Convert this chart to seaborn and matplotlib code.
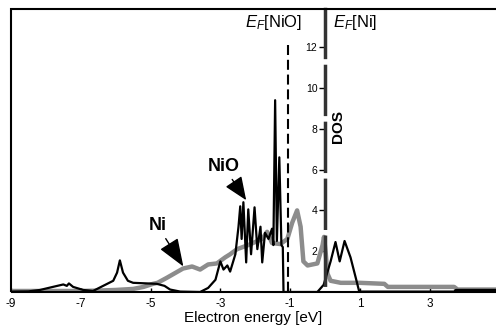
import matplotlib
matplotlib.use("Agg")
import matplotlib.pyplot as plt
from matplotlib.patches import Rectangle
import pandas as pd
import seaborn as sns

# NiO density of states (black)
nio_energy = [-9.0, -8.5, -8.17, -7.8, -7.5, -7.4, -7.34, -7.22, -6.93, -6.65,
              -6.36, -6.07, -5.96, -5.88, -5.79, -5.65, -5.5, -4.82, -4.6, -4.44,
              -4.15, -3.58, -3.35, -3.14, -3.0, -2.91, -2.8, -2.72, -2.57, -2.48,
              -2.43, -2.39, -2.34, -2.26, -2.2, -2.12, -2.02, -1.94, -1.85, -1.8,
              -1.72, -1.62, -1.52, -1.48, -1.43, -1.38, -1.31, -1.25, -1.21, -1.19,
              -0.22, -0.04, 0.16, 0.3, 0.42, 0.56, 0.73, 0.88, 0.98, 3.7,
              3.75, 4.9]
nio_dos = [0.02, 0.03, 0.1, 0.25, 0.37, 0.3, 0.42, 0.25, 0.1, 0.05,
           0.3, 0.55, 0.95, 1.55, 0.95, 0.55, 0.45, 0.4, 0.3, 0.12,
           0.02, 0.0, 0.2, 0.6, 1.5, 1.1, 1.3, 1.0, 1.85, 3.2,
           4.2, 2.6, 4.4, 1.45, 4.05, 1.85, 4.15, 2.1, 3.2, 1.45,
           2.9, 2.6, 3.1, 2.3, 9.4, 2.5, 6.6, 2.3, 2.2, 0.0,
           0.0, 0.35, 1.5, 2.45, 1.5, 2.5, 1.7, 0.7, 0.02, 0.02,
           0.1, 0.1]

# Ni density of states (grey)
ni_energy = [-9.0, -8.0, -7.0, -6.5, -6.0, -5.5, -5.2, -4.93, -4.8, -4.53,
             -4.07, -3.81, -3.58, -3.35, -3.1, -2.86, -2.72, -2.52, -2.2, -1.8,
             -1.66, -1.52, -1.28, -1.08, -0.94, -0.8, -0.7, -0.62, -0.5, -0.22,
             -0.07, -0.03, 0.02, 0.07, 0.16, 0.45, 1.0, 1.7, 1.8, 3.7,
             3.8, 4.9]
ni_dos = [0.05, 0.05, 0.05, 0.07, 0.1, 0.15, 0.25, 0.4, 0.45, 0.7,
          1.15, 1.25, 1.1, 1.35, 1.4, 1.7, 1.85, 2.1, 2.3, 2.6,
          2.95, 2.4, 2.35, 2.6, 3.4, 4.0, 3.2, 1.5, 1.3, 1.4,
          2.3, 2.7, 1.9, 0.9, 0.55, 0.45, 0.45, 0.4, 0.25, 0.25,
          0.12, 0.12]

x_ticks = [-9, -7, -5, -3, -1, 1, 3]
y_ticks = [2, 4, 6, 8, 10, 12]
ef_nio = -1.05
ef_ni = 0.0

sns.set_theme(style="white")
plt.rcParams['font.family'] = ['Liberation Sans', 'DejaVu Sans']
plt.rcParams['mathtext.fontset'] = 'custom'
plt.rcParams['mathtext.rm'] = 'Liberation Sans'
plt.rcParams['mathtext.it'] = 'Liberation Sans:italic'
plt.rcParams['axes.unicode_minus'] = False
plt.rcParams['text.color'] = 'black'
plt.rcParams['axes.labelcolor'] = 'black'

df_ni = pd.DataFrame({"energy": ni_energy, "dos": ni_dos})
df_nio = pd.DataFrame({"energy": nio_energy, "dos": nio_dos})

fig = plt.figure(figsize=(4.96, 3.30), dpi=100)
ax = fig.add_axes([11 / 496, 38 / 330, 1 - 11 / 496, 283 / 330])

sns.lineplot(data=df_ni, x="energy", y="dos", ax=ax, color="#8c8c8c",
             lw=3.2, estimator=None, sort=False)
sns.lineplot(data=df_nio, x="energy", y="dos", ax=ax, color="black",
             lw=1.6, estimator=None, sort=False)

# Fermi level of NiO
ax.plot([ef_nio, ef_nio], [12.1, 0], color="black", lw=1.5,
        linestyle=(0, (4.8, 2.3)))

ax.set_xlim(-9, 4.9)
ax.set_ylim(0, 13.87)

# DOS axis sits at the Ni Fermi level
for s in ["top", "right", "bottom"]:
    ax.spines[s].set_visible(False)
ax.spines["left"].set_position(("data", ef_ni))
ax.spines["left"].set_color("#333333")
ax.spines["left"].set_linewidth(2.5)
ax.spines["left"].set_linestyle((14.3, (13.8, 2.6)))
ax.add_patch(Rectangle((0, 0), 1.05, 1, transform=ax.transAxes, fill=False,
                       lw=1.5, edgecolor="black", clip_on=False, zorder=5))

ax.set_xticks(x_ticks)
ax.set_yticks(y_ticks)
ax.tick_params(axis="x", direction="in", length=3, width=1, labelsize=8.5,
               pad=4, bottom=True, colors="black")
ax.tick_params(axis="y", direction="out", length=4, width=1, labelsize=7.5,
               pad=1.5, left=True, colors="black")

ax.set_xlabel("Electron energy [eV]", fontsize=11, labelpad=1)
ax.set_ylabel("")
ax.text(0.37, 8.1, "DOS", rotation=90, fontsize=11, fontweight="bold",
        ha="center", va="center")

ax.text(-2.29, 13.2, r"$E_F$[NiO]", fontsize=12, ha="left", va="center")
ax.text(0.23, 13.2, r"$E_F$[Ni]", fontsize=12, ha="left", va="center")

arrow_ni = dict(arrowstyle="-|>,head_length=1.45,head_width=0.55",
                color="black", lw=1, mutation_scale=12, shrinkA=1, shrinkB=0)
arrow_nio = dict(arrowstyle="-|>,head_length=1.2,head_width=0.5",
                 color="black", lw=1, mutation_scale=12, shrinkA=1, shrinkB=0)
ax.annotate("Ni", xy=(-4.06, 1.25), xytext=(-4.8, 3.25), fontsize=13,
            fontweight="bold", ha="center", va="center", arrowprops=arrow_ni)
ax.annotate("NiO", xy=(-2.26, 4.5), xytext=(-2.91, 6.15), fontsize=13,
            fontweight="bold", ha="center", va="center", arrowprops=arrow_nio)

fig.savefig("out.png", dpi=100)
